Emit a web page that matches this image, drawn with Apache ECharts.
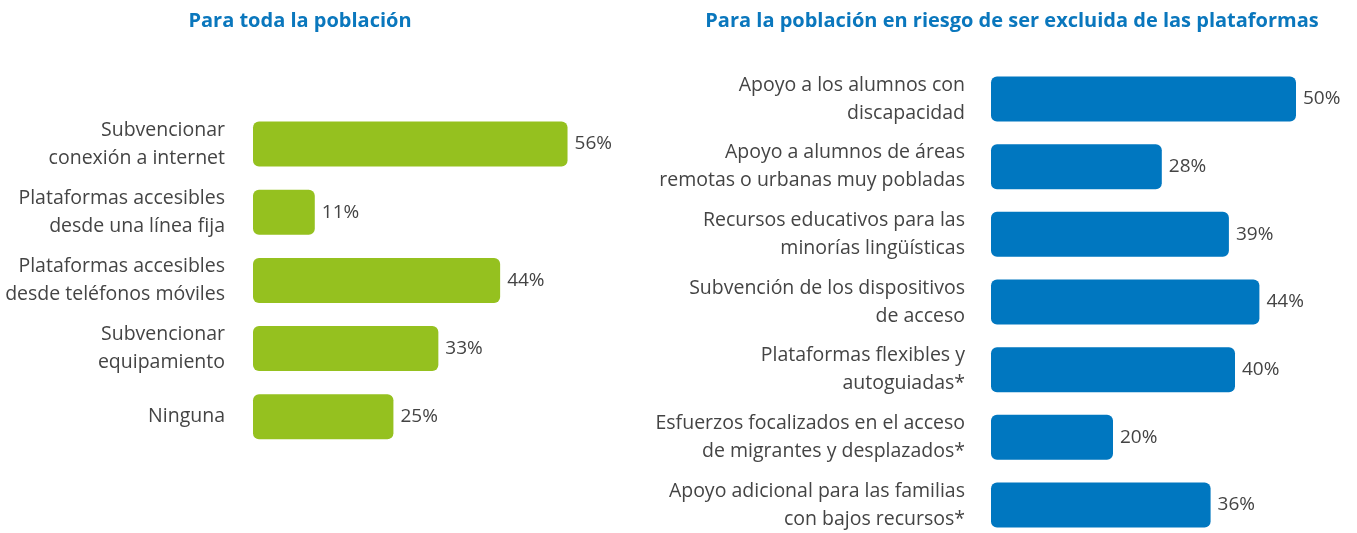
<!DOCTYPE html>
<html>
<head>
<meta charset="utf-8">
<script src="https://cdn.jsdelivr.net/npm/echarts@6/dist/echarts.min.js"></script>
<style>
  html, body { margin: 0; padding: 0; background: #fff; }
</style>
</head>
<body>
<div id="main" style="width: 1357px;height:533px;"></div>
<script>
// datos
const leftTitle = 'Para toda la población'
const rightTitle = 'Para la población en riesgo de ser excluida de las plataformas'

const leftCategories = [
  'Subvencionar\nconexión a internet',
  'Plataformas accesibles\ndesde una línea fija',
  'Plataformas accesibles\ndesde teléfonos móviles',
  'Subvencionar\nequipamiento',
  'Ninguna'
]
const leftValues = [56, 11, 44, 33, 25]

const rightCategories = [
  'Apoyo a los alumnos con\ndiscapacidad',
  'Apoyo a alumnos de áreas\nremotas o urbanas muy pobladas',
  'Recursos educativos para las\nminorías lingüísticas',
  'Subvención de los dispositivos\nde acceso',
  'Plataformas flexibles y\nautoguiadas*',
  'Esfuerzos focalizados en el acceso\nde migrantes y desplazados*',
  'Apoyo adicional para las familias\ncon bajos recursos*'
]
const rightValues = [50, 28, 39, 44, 40, 20, 36]

const textColor = '#444444'
const fontFam = '"Open Sans", "Noto Sans", sans-serif'

// boundaryGap false: las barras quedan centradas en los ticks
function catAxis (idx, cats, margin) {
  return {
    type: 'category',
    gridIndex: idx,
    data: cats,
    inverse: true,
    boundaryGap: false,
    axisLine: { show: false },
    axisTick: { show: false },
    axisLabel: {
      margin: margin,
      color: textColor,
      fontFamily: fontFam,
      fontSize: 19.5,
      lineHeight: 28,
      align: 'right'
    }
  }
}

function valAxis (idx) {
  return {
    type: 'value',
    gridIndex: idx,
    min: 0,
    max: 60,
    show: false,
    splitLine: { show: false }
  }
}

function barSeries (idx, values, color) {
  return {
    type: 'bar',
    xAxisIndex: idx,
    yAxisIndex: idx,
    data: values,
    barWidth: 45,
    clip: false,
    itemStyle: { color: color, borderRadius: 6 },
    label: {
      show: true,
      position: 'right',
      distance: 7,
      formatter: '{c}%',
      color: textColor,
      fontFamily: fontFam,
      fontSize: 19
    },
    animation: false
  }
}

const option = {
  backgroundColor: '#fff',
  animation: false,
  title: [
    {
      text: leftTitle,
      left: 295,
      top: 6,
      textAlign: 'center',
      textStyle: { color: '#0a77bd', fontSize: 20, fontWeight: 'bold', fontFamily: fontFam }
    },
    {
      text: rightTitle,
      left: 1007,
      top: 6,
      textAlign: 'center',
      textStyle: { color: '#0a77bd', fontSize: 20, fontWeight: 'bold', fontFamily: fontFam }
    }
  ],
  grid: [
    { left: 253, top: 144, width: 337, height: 272.8 },
    { left: 991, top: 99, width: 369, height: 409 }
  ],
  xAxis: [valAxis(0), valAxis(1)],
  yAxis: [catAxis(0, leftCategories, 28), catAxis(1, rightCategories, 26)],
  series: [
    barSeries(0, leftValues, '#95c11f'),
    barSeries(1, rightValues, '#0077c0')
  ]
}

const myChart = echarts.init(document.getElementById('main'))
myChart.setOption(option)
</script>
</body>
</html>
